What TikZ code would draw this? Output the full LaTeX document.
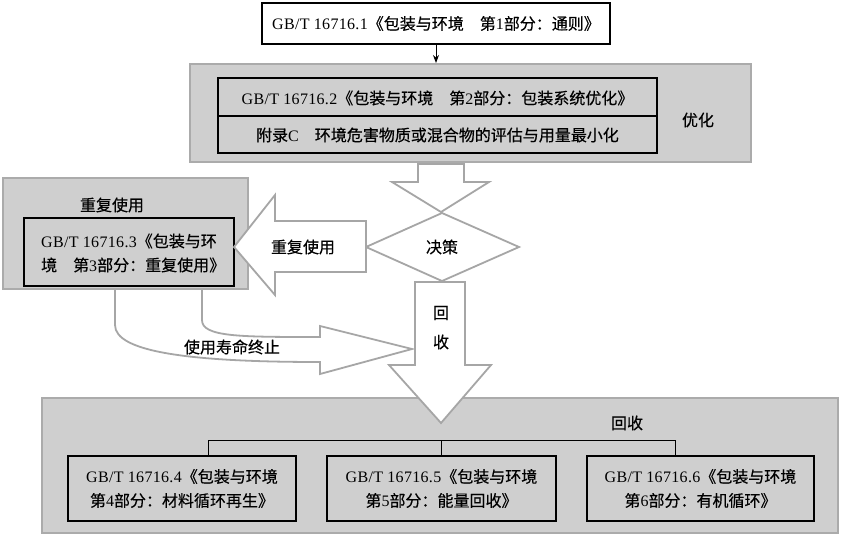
\documentclass[tikz,border=0pt]{standalone}
\usepackage{fontspec}
\setmainfont{Liberation Serif}[LetterSpace=2]
\newfontfamily\cjk{Noto Sans CJK SC}[FakeBold=0.4]
\newcommand\zh[1]{{\cjk #1}}
\usetikzlibrary{arrows.meta}
\definecolor{grayfill}{HTML}{CFCFCF}
\definecolor{grayline}{HTML}{ABABAB}
\definecolor{arrowline}{HTML}{A6A6A6}
\begin{document}
\begin{tikzpicture}[x=1pt,y=-1pt,
  graybox/.style={draw=grayline, fill=grayfill, line width=2pt, inner sep=0pt},
  blackbox/.style={draw=black, line width=1.8pt, inner sep=0pt},
  blockarrow/.style={draw=arrowline, fill=white, line width=1.8pt, line join=miter},
  lbl/.style={font=\fontsize{16}{24}\selectfont, inner sep=0pt, align=center},
  treeline/.style={draw=black, line width=0.8pt},
]
\useasboundingbox (0,0) rectangle (842,536);
\fill[white] (0,0) rectangle (842,536);

% top box
\node[blackbox, fill=white, minimum width=348pt, minimum height=41pt] (top) at (436,23.5) {};
\node[lbl] (toptxt) at (top.center) {GB/T 16716.1\zh{《包装与环境　第}1\zh{部分：通则》}};

% optimisation box
\node[graybox, minimum width=561pt, minimum height=98pt] (opt) at (470.5,113) {};
\node[blackbox, fill=grayfill, minimum width=439pt, minimum height=75pt] (optin) at (437.5,115.5) {};
\coordinate (dv) at (0,116);
\draw[black, line width=1.8pt] (optin.west |- dv) -- (optin.east |- dv);
\node[lbl] (row1) at (437.5,98) {GB/T 16716.2\zh{《包装与环境　第}2\zh{部分：包装系统优化》}};
\node[lbl] (row2) at (437.5,135) {\zh{附录}C\zh{　环境危害物质或混合物的评估与用量最小化}};
\node[lbl] (optlbl) at (698,120) {\zh{优化}};
\draw[-{Stealth[length=8pt,width=6pt]}, line width=0.9pt] (top.south) -- (opt.north -| top.south);

% block arrow down to decision
\draw[blockarrow] (418,164) -- (464,164) -- (464,182) -- (489,182) -- (441,212) -- (392,182) -- (418,182) -- cycle;

% decision diamond
\draw[blockarrow] (366,247) -- (442,213) -- (519,247) -- (442,281) -- cycle;
\node[lbl] (dec) at (442,247) {\zh{决策}};

% curved arrow (end of life)
\draw[blockarrow] (115,288) -- (115,325) .. controls (115,352) and (190,362) .. (320,362)
  -- (320,374) -- (412,349) -- (320,326) -- (320,337)
  .. controls (240,337) and (202,337) .. (202,320) -- (202,288) -- cycle;
\node[lbl] (eol) at (232,347) {\zh{使用寿命终止}};

% reuse box
\node[graybox, minimum width=245pt, minimum height=111pt] (reuse) at (125.5,233.5) {};
\node[lbl] (reuselbl) at (112,205) {\zh{重复使用}};
\node[blackbox, fill=grayfill, minimum width=210pt, minimum height=68pt] (reusein) at (129,252) {};
\node[lbl, align=left, anchor=west] (reusetxt) at (41,253) {GB/T 16716.3\zh{《包装与环}\\\zh{境　第}3\zh{部分：重复使用》}};

% reuse block arrow
\draw[blockarrow] (366,221) -- (366,272) -- (275,272) -- (275,295) -- (234,247) -- (275,195) -- (275,221) -- cycle;
\node[lbl] (reusearr) at (303,247) {\zh{重复使用}};

% recovery box
\node[graybox, minimum width=796pt, minimum height=135pt] (rec) at (440,465.5) {};
\node[lbl] (reclbl) at (627,423) {\zh{回收}};

% recovery block arrow
\draw[blockarrow] (415,282) -- (465,282) -- (465,365) -- (491,365) -- (441,423) -- (389,365) -- (415,365) -- cycle;
\node[lbl] (hui) at (441,313) {\zh{回}};
\node[lbl] (shou) at (441,342) {\zh{收}};

% three standards
\node[blackbox, fill=grayfill, minimum width=228pt, minimum height=65pt] (b4) at (182,488.5) {};
\node[blackbox, fill=grayfill, minimum width=229pt, minimum height=65pt] (b5) at (441.5,488.5) {};
\node[blackbox, fill=grayfill, minimum width=227pt, minimum height=65pt] (b6) at (700.5,488.5) {};
\node[lbl] (t4) at (b4.center) {GB/T 16716.4\zh{《包装与环境}\\\zh{第}4\zh{部分：材料循环再生》}};
\node[lbl] (t5) at (b5.center) {GB/T 16716.5\zh{《包装与环境}\\\zh{第}5\zh{部分：能量回收》}};
\node[lbl] (t6) at (b6.center) {GB/T 16716.6\zh{《包装与环境}\\\zh{第}6\zh{部分：有机循环》}};

\coordinate (j1) at (208,440);
\coordinate (j2) at (441,440);
\coordinate (j3) at (675,440);
\draw[treeline] (j1) -- (j3);
\draw[treeline] (j1) -- (j1 |- b4.north);
\draw[treeline] (j2) -- (j2 |- b5.north);
\draw[treeline] (j3) -- (j3 |- b6.north);
\end{tikzpicture}
\end{document}
